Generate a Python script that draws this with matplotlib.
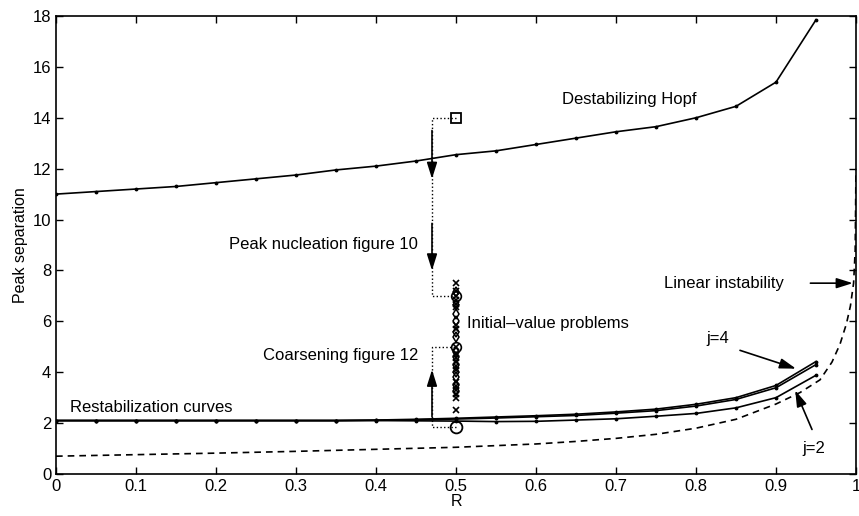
import numpy as np
import matplotlib
matplotlib.use("Agg")
import matplotlib.pyplot as plt

plt.rcParams['font.family'] = ['Liberation Sans', 'DejaVu Sans']

# grid of R used by the computed branches
R = [0.0, 0.05, 0.1, 0.15, 0.2, 0.25, 0.3, 0.35, 0.4, 0.45,
     0.5, 0.55, 0.6, 0.65, 0.7, 0.75, 0.8, 0.85, 0.9, 0.95]

hopf = [11.0, 11.1, 11.2, 11.3, 11.45, 11.6, 11.75, 11.95, 12.1, 12.3,
        12.55, 12.7, 12.95, 13.2, 13.45, 13.65, 14.0, 14.45, 15.4, 17.85]

restab_j2 = [2.1, 2.1, 2.1, 2.1, 2.1, 2.1, 2.1, 2.1, 2.1, 2.09,
             2.08, 2.06, 2.07, 2.12, 2.17, 2.27, 2.38, 2.6, 3.0, 3.88]
restab_j3 = [2.1, 2.1, 2.1, 2.1, 2.1, 2.1, 2.1, 2.1, 2.11, 2.13,
             2.16, 2.2, 2.25, 2.3, 2.39, 2.49, 2.67, 2.93, 3.39, 4.3]
restab_j4 = [2.1, 2.1, 2.1, 2.1, 2.1, 2.1, 2.1, 2.1, 2.12, 2.15,
             2.19, 2.24, 2.29, 2.35, 2.44, 2.55, 2.74, 3.0, 3.48, 4.42]

# linear instability threshold (dashed)
lin_R = [0.0, 0.1, 0.2, 0.3, 0.4, 0.5, 0.6, 0.65, 0.7, 0.75, 0.8, 0.85,
         0.9, 0.93, 0.955, 0.97, 0.98, 0.988, 0.993, 0.997, 0.999, 1.0]
lin_y = [0.7, 0.76, 0.82, 0.89, 0.97, 1.05, 1.18, 1.28, 1.4, 1.56, 1.8, 2.15,
         2.75, 3.2, 3.7, 4.4, 5.1, 5.9, 6.6, 7.5, 8.8, 12.0]

# initial-value problems at R = 0.5
ivp_R = 0.5
ivp_x = [2.5, 3.0, 3.15, 3.3, 3.45, 3.6, 4.1, 4.25, 4.4, 4.55, 4.7, 5.0,
         5.7, 5.85, 6.55, 6.7, 6.85, 7.0, 7.2, 7.5]
ivp_diamond = [3.25, 3.5, 3.8, 4.0, 4.3, 4.6, 4.8, 5.4, 5.6, 6.0, 6.3, 6.65, 7.15]
ivp_circle = [5.0, 7.0]
start_square = 14.0
start_circle = 1.85

# dotted guide paths
nuc_R = [0.5, 0.47, 0.47, 0.5]
nuc_y = [14.0, 14.0, 7.0, 7.0]
coa_R = [0.5, 0.47, 0.47, 0.5]
coa_y = [1.85, 1.85, 5.0, 5.0]

fig = plt.figure(figsize=(8.59, 5.16), dpi=100)
ax = fig.add_axes([0.0652, 0.0814, 0.9313, 0.8876])

lw = 1.2
ax.plot(R, hopf, 'k-', lw=lw, marker='.', ms=3.5)
ax.plot(R, restab_j2, 'k-', lw=lw, marker='.', ms=3.5)
ax.plot(R, restab_j3, 'k-', lw=lw, marker='.', ms=3.5)
ax.plot(R, restab_j4, 'k-', lw=lw, marker='.', ms=3.5)
ax.plot(lin_R, lin_y, 'k--', lw=lw, dashes=(4, 3))

ax.plot(nuc_R, nuc_y, 'k:', lw=1.0)
ax.plot(coa_R, coa_y, 'k:', lw=1.0)

ax.plot([ivp_R] * len(ivp_x), ivp_x, 'kx', ms=5, mew=1.2)
ax.plot([ivp_R] * len(ivp_diamond), ivp_diamond, 'kd', ms=5, mfc='none', mew=1.1)
ax.plot([ivp_R] * len(ivp_circle), ivp_circle, 'ko', ms=7, mfc='none', mew=1.2)
ax.plot([ivp_R], [start_square], 'ks', ms=6.5, mfc='none', mew=1.3)
ax.plot([ivp_R], [start_circle], 'ko', ms=8.5, mfc='none', mew=1.3)

arrow = dict(arrowstyle='-|>,head_length=0.7,head_width=0.22', color='k', lw=1.2,
             mutation_scale=14, shrinkA=0, shrinkB=0)
ax.annotate('', xy=(0.47, 11.6), xytext=(0.47, 13.5), arrowprops=arrow)
ax.annotate('', xy=(0.47, 8.0), xytext=(0.47, 9.85), arrowprops=arrow)
ax.annotate('', xy=(0.47, 4.1), xytext=(0.47, 2.25), arrowprops=arrow)
ax.annotate('', xy=(0.996, 7.5), xytext=(0.943, 7.5), arrowprops=arrow)
ax.annotate('', xy=(0.925, 4.14), xytext=(0.855, 4.86), arrowprops=arrow)
ax.annotate('', xy=(0.924, 3.29), xytext=(0.945, 1.75), arrowprops=arrow)

fs = 12
ax.text(0.632, 14.7, 'Destabilizing Hopf', fontsize=fs, va='center')
ax.text(0.4525, 9.0, 'Peak nucleation figure 10', fontsize=fs, va='center', ha='right')
ax.text(0.4525, 4.67, 'Coarsening figure 12', fontsize=fs, va='center', ha='right')
ax.text(0.514, 5.93, 'Initial\u2013value problems', fontsize=fs, va='center')
ax.text(0.0175, 2.6, 'Restabilization curves', fontsize=fs, va='center')
ax.text(0.76, 7.5, 'Linear instability', fontsize=fs, va='center')
ax.text(0.8125, 5.33, 'j=4', fontsize=fs, va='center')
ax.text(0.9325, 1.02, 'j=2', fontsize=fs, va='center')

ax.set_xlim(0, 1)
ax.set_ylim(0, 18)
ax.set_xticks(np.arange(0, 1.01, 0.1))
ax.set_xticklabels(['0', '0.1', '0.2', '0.3', '0.4', '0.5', '0.6', '0.7', '0.8', '0.9', '1'])
ax.set_yticks(np.arange(0, 19, 2))
ax.tick_params(direction='in', top=True, right=True, length=5, width=1, labelsize=12)
for s in ax.spines.values():
    s.set_linewidth(1.2)
ax.set_xlabel('R', fontsize=11.5, labelpad=0)
ax.set_ylabel('Peak separation', fontsize=11.5, labelpad=3)

fig.savefig('out.png', dpi=100)
